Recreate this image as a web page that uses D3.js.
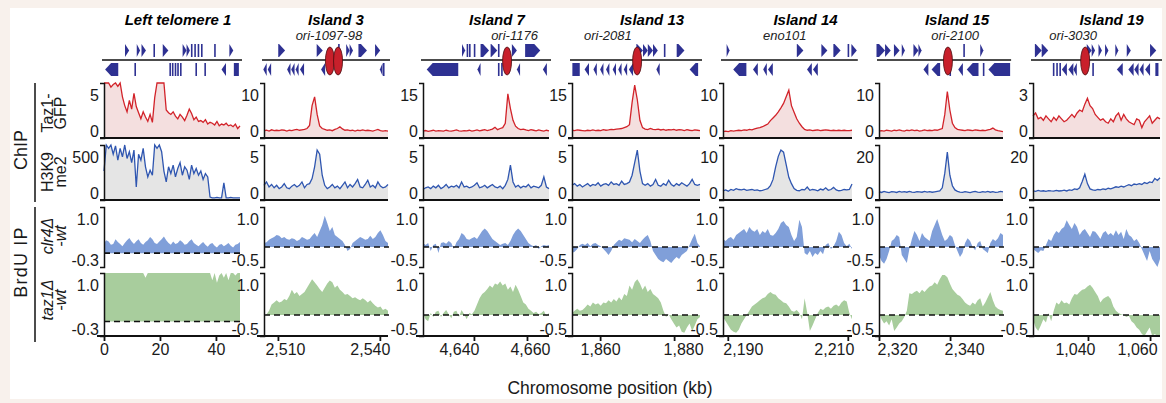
<!DOCTYPE html>
<html>
<head>
<meta charset="utf-8">
<script src="https://cdn.jsdelivr.net/npm/d3@7"></script>
<style>
	html, body { margin: 0; padding: 0; background: #f8f1ec; }
	svg { display: block; font-family: 'Liberation Sans', Arial, Helvetica, sans-serif; }
</style>
</head>
<body>
<div id="chart-area" style="width:1166px;height:403px;"></div>
<script>

// ---- data ----
const panelTitles = ['Left telomere 1', 'Island 3', 'Island 7', 'Island 13', 'Island 14', 'Island 15', 'Island 19'];
const oriNames = ['', 'ori-1097-98', 'ori-1176', 'ori-2081', 'eno101', 'ori-2100', 'ori-3030'];
const oriNameKb = [null, 2525.0, 4655.3, 1862.1, 2199.5, 2341.4, 1035.2];
const oriKb = [[], [2525.3, 2527.7], [4652.5], [1870.0], [], [2339.4], [1039.1]];

const xDomains = [[0, 48.6], [2505.9, 2542.4], [4620.8, 4668.3], [1852.4, 1887.0], [2189.2, 2210.7], [2320.0, 2354.9], [1022.3, 1063.2]];
const xTicks = [[0, 20, 40], [2510, 2540], [4640, 4660], [1860, 1880], [2190, 2210], [2320, 2340], [1040, 1060]];

const taz1Max = [5, 10, 15, 15, 10, 10, 3];
const h3k9Max = [500, 5, 5, 5, 10, 20, 20];
const brduMax = 1.0;
const brduMin = [-0.3, -0.5, -0.5, -0.5, -0.5, -0.5, -0.5];

const rowLabels = [['Taz1-', 'GFP'], ['H3K9', 'me2'], ['clr4Δ', '-wt'], ['taz1Δ', '-wt']];
const groupLabels = ['ChIP', 'BrdU IP'];
const xAxisTitle = 'Chromosome position (kb)';

// genes: [start kb, end kb, strand]  (1 = +, -1 = -, -2 = plain block below)
const genes = [
	[[7.5,9.0,1],[11.7,12.9,1],[13.4,15.0,1],[17.8,18.1,1],[21.0,23.0,1],[28.1,29.5,1],[29.5,30.7,1],[31.2,31.5,1],[32.4,32.7,1],[33.6,33.9,1],[34.8,35.1,1],[39.5,39.8,1],[44.8,46.2,1],
	 [0.4,5.1,-1],[11.0,11.3,-1],[23.5,23.8,-1],[24.4,24.7,-1],[25.4,25.7,-1],[26.3,26.6,-1],[27.3,27.6,-1],[32.8,33.1,-1],[36.0,36.3,-1],[42.0,43.6,-1],[46.4,48.2,-2]],
	[[2510.1,2512.1,1],[2521.4,2523.2,1],[2527.8,2528.1,1],[2530.1,2531.1,1],[2531.1,2532.1,1],[2533.7,2536.2,1],[2538.6,2540.1,1],
	 [2505.7,2506.7,-1],[2507.0,2508.0,-1],[2512.7,2513.7,-1],[2513.9,2514.9,-1],[2515.2,2516.1,-1],[2516.5,2517.7,-1],[2522.7,2523.9,-1],[2540.0,2540.8,-1],[2541.0,2541.3,-1]],
	[[4635.5,4636.7,1],[4637.1,4638.0,1],[4638.0,4638.9,1],[4640.1,4640.4,1],[4642.5,4645.7,1],[4646.3,4648.8,1],[4649.2,4649.5,1],[4654.3,4656.2,1],[4659.3,4665.0,1],
	 [4622.2,4634.1,-1],[4641.3,4642.5,-1],[4649.2,4649.5,-1],[4650.4,4650.7,-1],[4656.2,4657.4,-1],[4666.0,4667.5,-1]],
	[[1869.8,1871.6,1],[1871.6,1872.9,1],[1872.9,1874.3,1],[1874.3,1875.6,1],[1877.3,1877.6,1],[1880.7,1882.8,1],
	 [1852.5,1854.5,-2],[1855.8,1857.0,-1],[1858.2,1859.1,-1],[1860.0,1860.9,-1],[1861.6,1862.5,-1],[1863.4,1864.3,-1],[1864.9,1865.8,-1],[1866.4,1867.3,-1],[1867.8,1868.9,-1],[1875.2,1876.1,-1],[1884.2,1886.5,-1]],
	[[2189.8,2190.3,1],[2201.5,2202.6,1],[2205.6,2206.6,1],[2207.6,2208.8,1],[2210.0,2210.2,1],[2210.6,2211.5,1],
	 [2190.9,2193.1,-1],[2194.2,2195.0,-1],[2195.9,2196.5,-1],[2196.7,2197.5,-1],[2203.2,2204.0,-1],[2204.2,2205.0,-1]],
	[[2319.3,2321.7,1],[2321.7,2323.3,1],[2324.2,2325.8,1],[2326.4,2327.3,1],[2329.7,2331.1,1],[2331.1,2332.0,1],[2343.8,2344.1,1],[2348.5,2349.4,1],
	 [2332.5,2333.9,-1],[2334.8,2337.2,-1],[2339.9,2340.2,-1],[2342.3,2343.6,-1],[2344.7,2348.0,-1],[2349.3,2349.6,-1],[2350.8,2356.9,-1]],
	[[1022.9,1025.1,1],[1025.1,1027.2,1],[1039.6,1041.2,1],[1041.2,1042.3,1],[1043.4,1044.5,1],[1045.5,1046.6,1],[1048.8,1049.8,1],[1052.5,1053.8,1],[1060.0,1062.0,1],
	 [1028.8,1029.1,-1],[1029.9,1030.2,-1],[1030.9,1031.2,-1],[1031.6,1033.2,-1],[1033.7,1035.3,-1],[1035.3,1036.4,-1],[1041.5,1041.8,-1],[1049.3,1051.2,-1],[1053.0,1054.7,-1],[1054.9,1056.3,-1],[1056.6,1057.9,-1],[1058.4,1060.0,-1],[1061.7,1062.7,-2]]
];

// Taz1-GFP ChIP, evenly spaced across each panel
const taz1GFP = [
	[6,6,6,5.1,5.4,6,5.2,6,4.0,3.0,2.3,3.6,2.6,4.4,2.9,2.2,1.5,2.3,1.7,1.2,2.0,1.1,3.9,6,6,6,6,2.5,2.2,2.0,2.3,1.8,1.5,2.0,1.7,1.3,1.9,2.6,2.1,1.4,1.7,1.2,1.3,1.1,1.4,0.9,1.1,1.0,0.8,1.2,0.7,0.9,0.8,1.0,0.7,0.8,0.6,0.9,0.4,0.7],
	[0.3,0.4,0.2,0.5,0.3,0.4,0.3,0.5,0.4,0.2,0.4,0.3,0.5,0.6,0.4,0.5,0.6,0.8,1.5,6.0,8.0,4.0,1.4,0.8,0.6,0.4,0.5,0.3,0.6,0.8,1.2,0.7,0.4,0.5,0.3,0.4,0.2,0.4,0.3,0.5,0.3,0.4,0.3,0.2,0.4,0.6,0.3,0.2,0.3,0.2],
	[0.3,0.5,0.2,0.4,0.6,0.3,0.5,0.4,0.3,0.6,0.4,0.3,0.5,0.7,0.4,0.3,0.5,0.4,0.6,0.3,0.5,0.7,0.4,0.6,0.8,0.5,0.7,1.0,1.6,0.8,1.2,1.5,3.0,13.0,8.0,4.0,2.0,1.2,0.8,1.0,0.7,0.5,0.8,0.6,0.4,0.7,0.5,0.3,0.6,0.4],
	[0.6,0.5,0.7,0.6,0.5,0.4,0.6,0.5,0.7,0.5,0.6,0.5,0.8,0.6,0.7,0.9,0.8,1.0,1.1,1.2,1.5,1.8,2.5,10.0,16.0,11.0,4.0,1.5,1.0,0.8,1.2,0.9,0.8,1.0,0.7,0.9,0.6,0.8,0.7,0.9,0.6,0.8,0.7,0.5,0.8,0.6,0.5,0.7,0.6,0.5],
	[0.1,0.2,0.1,0.3,0.2,0.3,0.4,0.3,0.5,0.4,0.6,0.5,0.7,0.9,1.0,1.2,1.5,1.8,2.6,3.2,3.8,4.6,5.5,6.5,8.0,9.5,6.0,4.5,3.0,2.0,1.2,0.6,0.4,0.5,0.3,0.4,0.5,0.3,0.4,0.5,0.4,0.3,0.4,0.3,0.4,0.3,0.4,0.3,0.3,0.4],
	[0.2,0.3,0.2,0.4,0.3,0.2,0.4,0.3,0.5,0.3,0.2,0.4,0.3,0.5,0.3,0.4,0.2,0.3,0.5,0.3,0.4,0.3,0.5,0.4,0.6,0.8,4.0,9.2,5.0,2.0,1.0,0.6,0.5,0.4,0.3,0.5,0.4,0.3,0.5,0.4,0.3,0.4,0.3,0.5,0.6,0.9,0.5,0.3,0.2,0.1],
	[1.1,1.3,0.9,1.0,0.8,1.1,0.9,0.7,1.0,0.8,1.1,0.9,0.7,0.8,1.0,1.2,1.0,1.3,1.5,1.4,1.9,2.3,1.8,1.6,1.2,1.0,0.8,0.9,0.7,0.6,0.9,0.7,1.1,1.3,0.8,1.2,0.9,0.7,0.6,0.5,0.9,0.8,0.3,0.7,0.9,1.1,0.6,0.8,1.0,0.9]
];

// H3K9me2 ChIP
const h3k9me2 = [
	[250,560,520,560,450,550,380,520,420,560,400,480,350,500,60,450,380,520,300,180,260,200,560,520,600,480,250,120,300,220,320,180,280,350,200,300,260,150,320,220,280,200,250,150,220,180,-60,-70,-70,-65,-70,-70,110,-70,-70,-65,-70,-70,-70,-70],
	[0.8,1.2,0.6,0.9,0.5,0.8,0.4,0.6,1.0,0.5,0.4,0.7,0.9,0.6,0.8,1.2,0.5,0.9,1.0,1.6,3.0,5.0,4.5,2.0,0.8,0.4,0.6,0.9,0.5,0.7,0.4,0.8,1.2,0.5,0.9,0.6,1.0,1.5,0.6,0.5,0.9,1.4,0.6,0.8,0.5,1.2,0.7,0.5,0.6,0.9],
	[0.3,0.5,0.6,0.4,0.7,0.5,0.8,0.4,0.6,0.9,0.5,0.7,0.6,0.8,0.5,1.2,0.6,0.7,0.5,0.6,0.8,1.1,0.5,0.6,0.8,0.5,0.7,0.9,0.6,0.5,0.7,0.4,0.8,1.5,3.2,1.2,0.6,0.8,0.5,0.7,0.6,0.9,0.5,0.7,0.6,0.5,0.8,1.8,0.6,0.4],
	[0.8,1.0,0.7,0.9,0.6,0.8,1.0,0.7,0.9,0.8,1.1,0.7,0.9,1.0,0.8,1.2,0.9,1.0,0.8,1.3,0.9,1.0,1.2,2.0,3.5,5.0,2.5,1.0,0.8,1.0,0.7,0.9,1.5,0.8,0.7,1.0,0.8,1.4,0.9,0.7,1.0,0.8,1.1,0.9,0.7,1.0,1.5,0.9,0.8,0.9],
	[0.3,0.5,0.2,0.6,0.4,0.8,0.6,0.5,0.7,0.4,0.5,0.6,0.4,0.5,0.3,0.4,0.6,0.8,1.5,3.0,6.0,8.5,10.0,9.5,6.5,3.5,2.0,0.8,0.4,0.3,0.6,0.5,1.2,0.4,0.6,0.5,0.3,0.7,0.5,1.0,0.4,0.6,1.1,0.5,0.3,0.4,0.6,0.5,0.6,1.9],
	[0.2,-0.2,0.3,0.0,-0.3,0.2,0.1,-0.2,0.3,0.0,0.2,-0.1,0.3,0.0,-0.2,0.2,0.1,-0.1,0.3,0.0,0.2,-0.1,0.1,0.3,0.5,2.0,9.0,19.0,8.0,3.0,1.0,0.3,0.0,-0.2,0.2,0.0,-0.3,0.1,0.3,0.0,-0.2,0.2,0.0,0.3,-0.1,0.2,-0.2,0.0,0.3,0.1],
	[0.5,0.3,0.8,0.4,0.6,0.3,0.7,0.5,0.4,0.8,0.5,0.6,0.9,0.5,1.0,0.8,1.5,1.2,2.0,5.0,8.5,4.0,1.5,1.0,0.8,1.2,1.0,1.5,1.2,1.8,1.5,2.0,2.5,2.2,2.8,2.4,3.0,3.5,3.0,3.8,3.5,4.0,3.6,4.5,4.0,4.8,4.5,6.5,5.5,6.8]
];

// BrdU IP, clr4Δ minus wt
const clr4Diff = [
	[0.22,0.28,0.25,0.18,0.2,0.3,0.24,0.2,0.15,0.22,0.28,0.33,0.25,0.2,0.26,0.3,0.22,0.18,0.24,0.28,0.35,0.3,0.22,0.2,0.25,0.3,0.36,0.28,0.22,0.18,0.25,0.2,0.22,0.28,0.24,0.18,0.2,0.26,0.3,0.22,0.18,0.15,0.2,0.24,0.18,0.14,0.2,0.22,0.16,0.12,0.18,0.2,0.15,0.18,0.22,0.16,0.12,0.18,0.2,0.24],
	[0.1,0.12,0.18,0.22,0.25,0.3,0.28,0.22,0.25,0.2,0.18,0.22,0.2,0.15,0.18,0.25,0.22,0.18,0.2,0.28,0.35,0.25,0.4,0.55,0.78,0.6,0.4,0.5,0.3,0.25,0.2,0.15,0.05,-0.1,-0.05,0.1,0.15,0.2,0.25,0.22,0.18,0.2,0.28,0.2,0.25,0.35,0.42,0.3,0.15,0.1],
	[0.1,0.05,0.1,-0.1,0.05,0.08,-0.15,0.1,0.12,0.08,0.15,0.1,-0.05,0.12,0.2,0.35,0.3,0.2,0.18,0.22,0.25,0.2,0.3,0.4,0.46,0.4,0.3,0.2,0.15,0.1,0.05,0.08,0.1,0.05,0.15,0.3,0.4,0.46,0.4,0.3,0.2,0.1,0.05,0.02,0.05,-0.05,0.02,0.05,0.03,0.05],
	[-0.15,-0.12,-0.05,0.05,0.08,0.05,0.1,0.02,0.08,0.1,0.05,0.02,-0.05,-0.12,-0.2,-0.1,0.05,0.12,0.18,0.15,0.22,0.2,0.18,0.12,0.2,0.15,0.1,0.18,0.25,0.3,0.15,-0.1,-0.2,-0.3,-0.35,-0.38,-0.3,-0.35,-0.4,-0.32,-0.25,-0.3,-0.2,-0.15,-0.1,0.05,0.2,0.33,0.1,0.02],
	[0.2,0.15,0.22,0.25,0.18,0.3,0.35,0.4,0.45,0.35,0.5,0.42,0.38,0.45,0.3,0.4,0.35,0.45,0.3,0.28,0.35,0.45,0.6,0.65,0.55,0.5,0.3,0.15,0.25,0.68,0.5,-0.15,-0.2,-0.1,-0.25,-0.15,-0.2,-0.1,-0.18,0.05,0.1,-0.05,0.02,0.15,0.38,0.3,0.1,0.02,0.08,-0.05],
	[-0.2,-0.35,-0.42,-0.3,-0.1,0.15,0.2,0.3,0.25,-0.2,-0.3,-0.4,-0.05,0.2,0.4,0.3,0.15,0.35,0.25,0.2,0.15,0.4,0.55,0.7,0.5,0.3,0.15,0.2,0.3,0.25,0.05,-0.1,-0.25,-0.15,0.1,0.22,0.15,0.0,-0.08,0.1,0.15,-0.05,-0.1,-0.15,0.1,0.2,0.15,0.22,0.35,0.3],
	[-0.05,-0.1,-0.15,-0.08,-0.1,0.05,0.2,0.15,0.3,0.4,0.35,0.45,0.5,0.67,0.55,0.45,0.6,0.5,0.3,0.4,0.45,0.35,0.25,0.4,0.38,0.3,0.2,0.35,0.4,0.3,0.35,0.28,0.42,0.3,0.38,0.2,0.45,0.3,0.25,0.15,0.2,0.1,-0.05,-0.2,-0.35,-0.1,-0.3,-0.4,-0.5,-0.3]
];

// BrdU IP, taz1Δ minus wt
const taz1Diff = [
	[1.3,1.3,1.3,1.3,1.3,1.3,1.3,1.3,1.3,1.3,1.3,1.3,1.3,1.3,1.3,1.3,1.3,1.3,0.9,1.3,1.3,1.3,1.3,1.3,1.3,1.3,1.3,1.3,1.3,1.3,1.3,1.3,1.3,1.3,1.3,1.3,1.3,1.3,1.3,1.3,1.3,1.3,1.3,1.3,1.3,1.2,1.0,0.85,1.1,0.8,0.95,1.1,0.9,1.2,0.85,1.0,1.1,0.95,1.2,1.2],
	[-0.02,0.02,0.1,0.25,0.3,0.35,0.3,0.32,0.38,0.35,0.45,0.6,0.5,0.55,0.45,0.5,0.55,0.65,0.75,0.85,0.78,0.7,0.62,0.55,0.65,0.75,0.82,0.78,0.65,0.7,0.6,0.55,0.48,0.5,0.45,0.4,0.42,0.38,0.35,0.4,0.36,0.3,0.35,0.28,0.22,0.18,0.2,0.12,0.15,0.1],
	[0.05,-0.1,-0.15,0.05,-0.05,0.08,0.1,-0.05,0.05,0.12,0.02,-0.08,0.08,0.1,-0.05,0.12,0.02,-0.1,0.05,0.02,0.1,0.25,0.4,0.5,0.55,0.62,0.7,0.65,0.75,0.72,0.8,0.7,0.75,0.6,0.68,0.55,0.72,0.6,0.45,0.3,0.25,0.15,0.1,0.05,0.08,0.02,0.05,0.1,-0.03,0.05],
	[0.05,0.1,0.15,0.1,0.12,0.18,0.25,0.2,0.3,0.25,0.28,0.22,0.3,0.28,0.35,0.3,0.38,0.32,0.42,0.35,0.5,0.45,0.7,0.6,0.78,0.85,0.75,0.6,0.7,0.55,0.62,0.5,0.45,0.4,0.3,0.1,-0.05,0.02,-0.1,-0.2,-0.3,-0.25,-0.4,-0.42,-0.3,-0.2,-0.38,-0.25,-0.1,-0.05],
	[-0.05,-0.15,-0.25,-0.35,-0.4,-0.42,-0.35,-0.2,-0.1,0.0,0.1,0.2,0.25,0.3,0.35,0.4,0.42,0.5,0.55,0.5,0.48,0.4,0.35,0.3,0.28,0.2,0.1,0.08,0.12,0.05,-0.1,0.4,0.05,-0.38,-0.25,-0.1,0.05,0.15,0.12,0.18,0.2,0.15,0.22,0.25,0.2,0.3,0.35,0.32,0.05,-0.1],
	[0.05,-0.1,-0.2,-0.15,-0.25,-0.1,-0.38,-0.3,-0.2,-0.15,-0.05,0.1,0.52,0.5,0.55,0.58,0.52,0.6,0.55,0.62,0.68,0.7,0.78,0.72,0.85,0.95,0.95,0.9,0.75,0.62,0.55,0.48,0.45,0.38,0.3,0.25,0.22,0.3,0.25,0.35,0.4,0.2,0.3,0.42,0.55,0.35,0.2,0.15,0.12,0.1],
	[-0.1,-0.3,-0.38,-0.25,-0.1,-0.18,0.05,-0.15,0.1,0.3,0.25,0.35,0.28,0.3,0.25,0.4,0.5,0.48,0.55,0.6,0.62,0.68,0.72,0.65,0.55,0.45,0.3,0.38,0.42,0.45,0.38,0.2,0.1,0.05,0.02,0.0,-0.05,-0.02,-0.15,-0.2,-0.3,-0.35,-0.45,-0.55,-0.4,-0.3,-0.5,-0.45,-0.55,-0.5]
];

window.addEventListener('DOMContentLoaded', () => {

	const width = 1166, height = 403;

	// pixel extent of each panel (y-axis x, right edge)
	const colPx = [[104, 240], [264, 388], [423, 549], [572, 700], [723, 852], [879, 1003], [1033, 1160]];
	const titleShift = [6, 10, 11, 16, 18, 16, 15];
	// x tick labels sit a little off their ticks in the figure
	const tickLabelShift = [[0, 0, 0], [7, -10], [-15, 3], [0, 9], [15, -14], [18, 14], [-13, -13]];
	const box = [
		{ top: 83, bottom: 138 },
		{ top: 145, bottom: 200 },
		{ top: 207, bottom: 267 },
		{ top: 273, bottom: 336 }
	];
	const geneBase = 60;

	const svg = d3.select('#chart-area')
		.append('svg')
		.attr('width', width)
		.attr('height', height);

	svg.append('rect').attr('width', width).attr('height', height).attr('fill', '#f8f1ec');
	svg.append('rect').attr('x', 10).attr('y', 8).attr('width', 1152).attr('height', 391).attr('fill', '#ffffff');

	const withX = (arr, dom) => arr.map((v, j) => [dom[0] + j * (dom[1] - dom[0]) / (arr.length - 1), v]);

	function genePath(g, x) {
		const s = x(g[0]), e = x(g[1]), strand = g[2];
		const top = strand > 0 ? 44 : 63, bot = strand > 0 ? 57 : 76, mid = (top + bot) / 2;
		const w = e - s;
		if (w < 2.5) {
			const c = (s + e) / 2;
			return `M${c - 0.8},${top}H${c + 0.8}V${bot}H${c - 0.8}Z`;
		}
		if (Math.abs(strand) === 2) return `M${s},${top}H${e}V${bot}H${s}Z`;
		const h = Math.min(w, 6);
		if (strand > 0) return `M${s},${top}H${e - h}L${e},${mid}L${e - h},${bot}H${s}Z`;
		return `M${e},${top}H${s + h}L${s},${mid}L${s + h},${bot}H${e}Z`;
	}

	function bracket(g, col, b, topLabel, botLabel) {
		const ax = colPx[col][0];
		const sc = d3.scaleLinear().domain([0, 1]).range([b.bottom, b.top]);
		const a = g.append('g')
			.attr('transform', `translate(${ax},0)`)
			.call(d3.axisLeft(sc).tickValues([]).tickSizeOuter(4));
		a.select('.domain').attr('stroke', '#111').attr('stroke-width', 1.5);
		g.append('text').attr('x', ax - 5).attr('y', b.top + 12).attr('dy', '0.35em')
			.attr('text-anchor', 'end').attr('font-size', 16).attr('fill', '#1a1a1a').text(topLabel);
		g.append('text').attr('x', ax - 5).attr('y', b.bottom - 7).attr('dy', '0.35em')
			.attr('text-anchor', 'end').attr('font-size', 16).attr('fill', '#1a1a1a').text(botLabel);
	}

	for (let i = 0; i < 7; i++) {
		const [x0, x1] = colPx[i];
		const x = d3.scaleLinear().domain(xDomains[i]).range(colPx[i]);
		const g = svg.append('g').attr('class', 'panel');

		// Titles
		g.append('text')
			.attr('x', (x0 + x1) / 2 + titleShift[i]).attr('y', 25)
			.attr('text-anchor', 'middle').attr('font-size', 15)
			.attr('font-weight', 'bold').attr('font-style', 'italic')
			.text(panelTitles[i]);
		if (oriNames[i]) {
			g.append('text')
				.attr('x', x(oriNameKb[i])).attr('y', 40)
				.attr('text-anchor', 'middle').attr('font-size', 13)
				.attr('font-style', 'italic').attr('fill', '#222')
				.text(oriNames[i]);
		}

		// Gene track
		const gx = genes[i].map(d => x(d[1]));
		g.append('line')
			.attr('x1', x0 - 2).attr('x2', Math.max(x1 + 2, d3.max(gx) + 1))
			.attr('y1', geneBase).attr('y2', geneBase)
			.attr('stroke', '#111').attr('stroke-width', 1.6);
		g.selectAll('path.gene')
			.data(genes[i])
			.enter()
				.append('path')
				.attr('class', 'gene')
				.attr('d', d => genePath(d, x))
				.attr('fill', '#2e3192');
		g.selectAll('ellipse.ori')
			.data(oriKb[i])
			.enter()
				.append('ellipse')
				.attr('class', 'ori')
				.attr('cx', d => x(d)).attr('cy', geneBase + 1)
				.attr('rx', 4.5).attr('ry', 14)
				.attr('fill', '#c8202b').attr('stroke', '#4a0c10').attr('stroke-width', 0.8);

		// Taz1-GFP
		const y0 = d3.scaleLinear().domain([-0.136 * taz1Max[i], 1.114 * taz1Max[i]]).range([box[0].bottom, box[0].top]).clamp(true);
		const t1 = withX(taz1GFP[i], xDomains[i]);
		g.append('path').datum(t1)
			.attr('d', d3.area().x(d => x(d[0])).y0(box[0].bottom).y1(d => y0(d[1])))
			.attr('fill', '#f4dfdf');
		g.append('path').datum(t1)
			.attr('d', d3.line().x(d => x(d[0])).y(d => y0(d[1])))
			.attr('fill', 'none').attr('stroke', '#d2232a').attr('stroke-width', 1.3);

		// H3K9me2
		const y1 = d3.scaleLinear().domain([-0.19 * h3k9Max[i], 1.12 * h3k9Max[i]]).range([box[1].bottom, box[1].top]).clamp(true);
		const h3 = withX(h3k9me2[i], xDomains[i]);
		g.append('path').datum(h3)
			.attr('d', d3.area().x(d => x(d[0])).y0(box[1].bottom).y1(d => y1(d[1])))
			.attr('fill', '#e5e5e5');
		g.append('path').datum(h3)
			.attr('d', d3.line().x(d => x(d[0])).y(d => y1(d[1])))
			.attr('fill', 'none').attr('stroke', '#2f56b0').attr('stroke-width', 1.3);

		// BrdU rows
		const brdu = [[clr4Diff[i], '#809fd9', box[2]], [taz1Diff[i], '#a8cd9d', box[3]]];
		brdu.forEach(([vals, color, b]) => {
			const y = d3.scaleLinear().domain([brduMin[i], brduMax]).range([b.bottom, b.top]).clamp(true);
			g.append('path').datum(withX(vals, xDomains[i]))
				.attr('d', d3.area().x(d => x(d[0])).y0(y(0)).y1(d => y(d[1])))
				.attr('fill', color);
			g.append('line')
				.attr('x1', x0).attr('x2', x1 + 1)
				.attr('y1', y(0)).attr('y2', y(0))
				.attr('stroke', '#111').attr('stroke-width', 1.6)
				.attr('stroke-dasharray', '6,4');
		});

		// Brackets and row rules
		bracket(g, i, box[0], taz1Max[i], 0);
		bracket(g, i, box[1], h3k9Max[i], 0);
		bracket(g, i, box[2], brduMax.toFixed(1), brduMin[i].toFixed(1));
		bracket(g, i, box[3], brduMax.toFixed(1), brduMin[i].toFixed(1));
		[box[0].bottom, box[1].bottom].forEach(yb => {
			g.append('line')
				.attr('x1', x0 - 4).attr('x2', x1)
				.attr('y1', yb).attr('y2', yb)
				.attr('stroke', '#111').attr('stroke-width', 1.8);
		});

		// X axis
		const bottomAxis = d3.axisBottom(x)
			.tickValues(xTicks[i])
			.tickSize(5)
			.tickSizeOuter(0)
			.tickFormat(d3.format(','));
		const ax = g.append('g')
			.attr('class', 'axis-bottom')
			.attr('transform', `translate(0, ${box[3].bottom})`)
			.call(bottomAxis);
		ax.attr('font-size', 16).attr('font-family', null);
		ax.select('.domain').attr('d', `M${x0 - 7},0H${x1}`).attr('stroke', '#111').attr('stroke-width', 2);
		ax.selectAll('.tick line').attr('stroke', '#111').attr('stroke-width', 1.8);
		ax.selectAll('.tick text')
			.attr('fill', '#1a1a1a')
			.attr('dx', (d, j) => tickLabelShift[i][j]);
	}

	// Left side labels
	const rowMid = [113, 172, 236, 300];
	rowLabels.forEach((lines, r) => {
		lines.forEach((txt, k) => {
			const cx = 47 + k * 13;
			svg.append('text')
				.attr('transform', `translate(${cx},${rowMid[r]}) rotate(-90)`)
				.attr('text-anchor', 'middle').attr('dominant-baseline', 'central')
				.attr('font-size', 16).attr('fill', '#1a1a1a')
				.attr('font-style', r >= 2 ? 'italic' : 'normal')
				.text(txt);
		});
	});

	const groupPos = [[150, 83, 202], [262, 207, 342]];
	groupLabels.forEach((txt, k) => {
		svg.append('text')
			.attr('transform', `translate(21,${groupPos[k][0]}) rotate(-90)`)
			.attr('text-anchor', 'middle').attr('dominant-baseline', 'central')
			.attr('font-size', 18).attr('letter-spacing', k === 1 ? 1.2 : 0)
			.attr('fill', '#1a1a1a')
			.text(txt);
		svg.append('line')
			.attr('x1', 35).attr('x2', 35)
			.attr('y1', groupPos[k][1]).attr('y2', groupPos[k][2])
			.attr('stroke', '#111').attr('stroke-width', 1.5);
	});

	svg.append('text')
		.attr('x', 610).attr('y', 394)
		.attr('text-anchor', 'middle').attr('font-size', 17.5)
		.attr('fill', '#1a1a1a')
		.text(xAxisTitle);

}); // end of document ready
</script>
</body>
</html>
